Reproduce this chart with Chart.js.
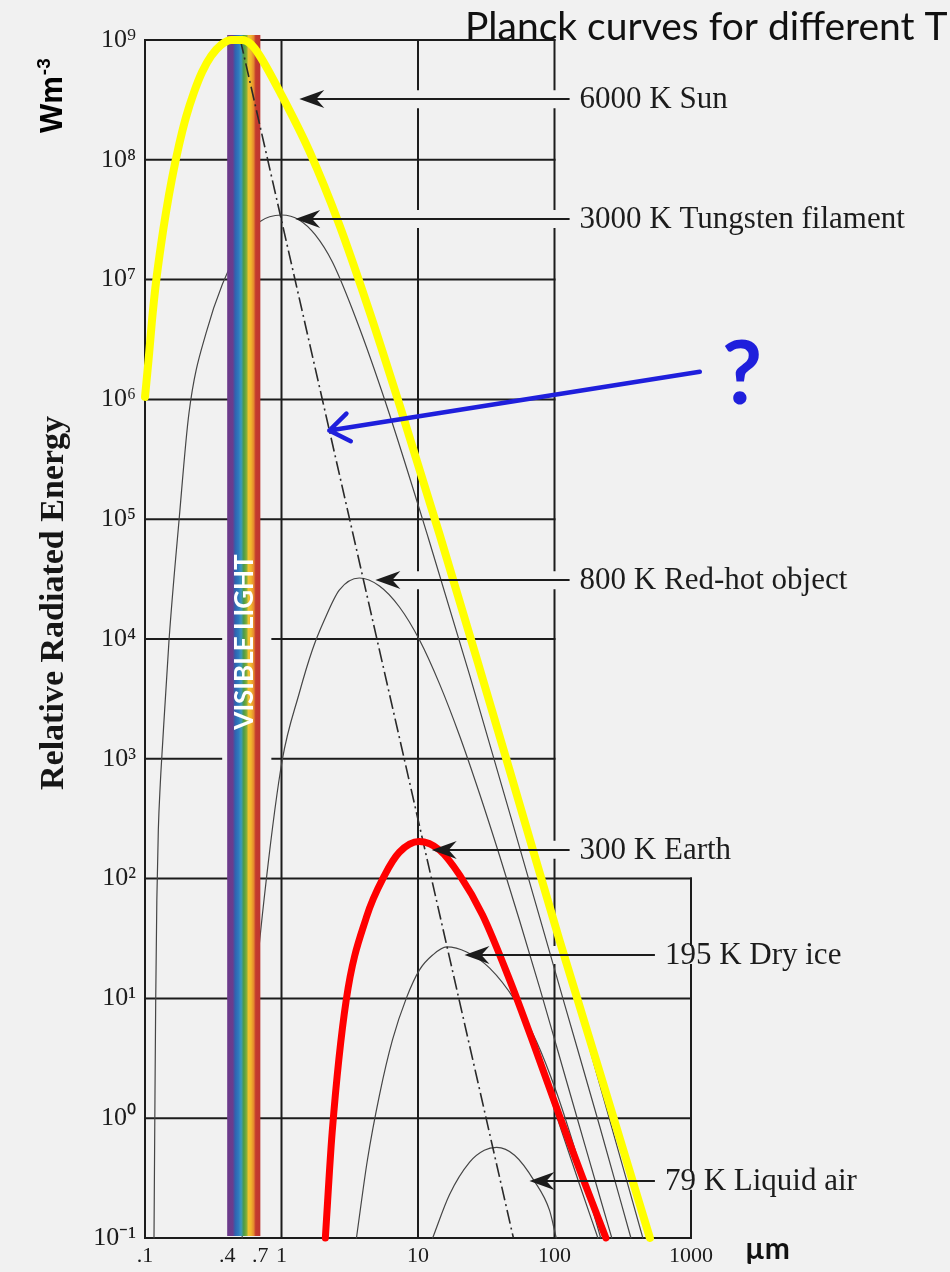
<!DOCTYPE html>
<html>
<head>
<meta charset="utf-8">
<title>Planck curves for different T</title>
<script src="https://cdn.jsdelivr.net/npm/chart.js@4.4.1/dist/chart.umd.min.js"></script>
<style>
  html, body { margin: 0; padding: 0; background: #f1f1f1; }
  canvas { display: block; }
</style>
</head>
<body>
<canvas id="planck" width="950" height="1272"></canvas>
<script>
const SERIF = "'Liberation Serif', 'Times New Roman', serif";
const SANS = "Lato, 'Open Sans', sans-serif";
const BOLD_SANS = "'Liberation Sans', Arial, sans-serif";
const INK = '#1c1c1c';
const BLUE = '#1f1fdc';

// axis ticks
const xTickValues = [0.1, 0.4, 0.7, 1, 10, 100, 1000];
const xTickLabels = ['.1', '.4', '.7', '1', '10', '100', '1000'];
const yTickValues = [0.1, 1, 10, 100, 1e3, 1e4, 1e5, 1e6, 1e7, 1e8, 1e9];
const yTickLabels = ['10⁻¹', '10⁰', '10¹', '10²', '10³', '10⁴', '10⁵', '10⁶', '10⁷', '10⁸', '10⁹'];

// visible light band, µm
const visibleBand = [0.4, 0.7];

// blackbody curves: wavelength (µm) and relative radiated energy
const t6000Wave   = [0.1, 0.107, 0.1126, 0.1204, 0.131, 0.1426, 0.1578, 0.1776, 0.2, 0.2289, 0.262, 0.305, 0.3613, 0.4278, 0.5151, 0.6, 0.687, 1.0, 1.6, 2.65, 4.41, 7.31, 14.4, 28.3, 55.6, 109, 215, 444];
const t6000Energy = [1.05e6, 2.35e6, 4.6e6, 9.5e6, 1.95e7, 3.66e7, 7.0e7, 1.33e8, 2.28e8, 3.68e8, 5.41e8, 7.35e8, 9.1e8, 1e9, 1e9, 9.17e8, 7.5e8, 3.47e8, 1.18e8, 2.88e7, 5.42e6, 9.06e5, 7.45e4, 5.67e3, 415, 29.6, 1.89, 0.1];

const t3000Wave   = [0.1164, 0.118, 0.1198, 0.1221, 0.1252, 0.1293, 0.1344, 0.15, 0.1776, 0.21, 0.28, 0.524, 0.687, 1.0, 1.349, 1.77, 2.36, 3.54, 5.87, 11.9, 23.9, 59.5, 119, 215, 363];
const t3000Energy = [0.1, 0.99, 9.8, 66, 255, 604, 1.3e3, 9.8e3, 9.8e4, 7.7e5, 3.58e6, 2.14e7, 3.03e7, 3.46e7, 3.15e7, 2.36e7, 1.40e7, 4.6e6, 8.98e5, 6.97e4, 5.0e3, 138, 8.8, 0.845, 0.1];

const t800Wave   = [0.515, 0.551, 0.631, 0.773, 1.013, 1.35, 1.682, 2.06, 2.65, 3.72, 5.22, 7.31, 10.26, 14.4, 20.2, 28.3, 39.6, 55.6, 78.0, 109, 153, 215, 263];
const t800Energy = [0.1, 0.966, 9.7, 97, 977, 3.54e3, 8.1e3, 1.44e4, 2.56e4, 3.23e4, 2.77e4, 1.85e4, 9.8e3, 4.2e3, 1.55e3, 508, 155, 44.3, 12.2, 3.24, 0.845, 0.22, 0.1];

const t300Wave   = [2.095, 2.35, 2.98, 4.2, 5.7, 7.3, 10.2, 14.4, 20.2, 29.7, 47.0, 71.6, 109, 153, 208];
const t300Energy = [0.1, 0.76, 9.7, 48, 107, 166, 204, 173, 107, 49.7, 14.2, 3.71, 0.877, 0.277, 0.1];

const t195Wave   = [3.54, 4.26, 5.22, 6.5, 8.23, 10.26, 12.8, 16.2, 22.7, 33.5, 51.1, 74.1, 102, 136, 181.5, 218];
const t195Energy = [0.1, 0.448, 1.56, 4.5, 10.1, 17.3, 23.0, 26.9, 24.4, 17.9, 9.7, 4.33, 1.72, 0.632, 0.207, 0.1];

const t79Wave   = [12.8, 17, 23.9, 30.6, 37.7, 51, 71, 92, 103];
const t79Energy = [0.1, 0.23, 0.43, 0.54, 0.57, 0.49, 0.3, 0.17, 0.1];

// highlighted curves
const sunWave   = [0.1, 0.107, 0.1126, 0.1204, 0.131, 0.1426, 0.1578, 0.1776, 0.2, 0.2289, 0.262, 0.305, 0.3613, 0.4278, 0.5151, 0.6, 0.687, 1.0, 1.6, 2.65, 4.41, 7.31, 14.4, 28.3, 55.6, 109, 215, 500];
const sunEnergy = [1.05e6, 2.35e6, 4.6e6, 9.5e6, 1.95e7, 3.66e7, 7.0e7, 1.33e8, 2.28e8, 3.68e8, 5.41e8, 7.35e8, 9.1e8, 1e9, 1e9, 9.17e8, 7.5e8, 3.47e8, 1.18e8, 2.88e7, 5.42e6, 9.06e5, 7.45e4, 5.67e3, 415, 30.4, 2.4, 0.1];

const earthWave   = [2.095, 2.35, 2.98, 4.2, 5.7, 7.3, 10.2, 14.4, 20.2, 29.7, 47.0, 71.6, 109, 161, 238];
const earthEnergy = [0.1, 0.76, 9.7, 48, 107, 166, 204, 173, 107, 49.7, 14.2, 3.93, 1.04, 0.317, 0.1];

// locus of the peaks (dash-dot)
const wienWave   = [0.5, 50];
const wienEnergy = [1e9, 0.1];

// labelled arrows
const arrowLabels   = ['6000 K Sun', '3000 K Tungsten filament', '800 K Red-hot object', '300 K Earth', '195 K Dry ice', '79 K Liquid air'];
const arrowTipWave  = [1.35, 1.26, 4.87, 12.6, 21.9, 65.5];
const arrowTailWave = [129, 129, 129, 129, 544, 544];
const arrowEnergy   = [3.2e8, 3.2e7, 3.1e4, 174, 23, 0.3];

// question arrow
const blueArrowWave   = [1160, 2.24];
const blueArrowEnergy = [1.7e6, 5.5e5];

// grid extents
const gridWaveLines = [0.1, 1, 10, 100, 1000];
const gridShortTop = 100;   // rows above this value stop at 100 µm; the 1000 µm line stops here

function pts(w, e) { return w.map((v, i) => ({ x: v, y: e[i] })); }

function curve(label, w, e, extra) {
  return Object.assign({
    label, data: pts(w, e), showLine: true, pointRadius: 0, pointHoverRadius: 0,
    borderColor: '#454545', borderWidth: 1.2, cubicInterpolationMode: 'monotone', fill: false,
    order: 10, clip: 8, borderCapStyle: 'round', borderJoinStyle: 'round'
  }, extra || {});
}

function strokeSegments(ctx, horizontal, fixed, a, b, gaps) {
  const g = gaps.filter(s => s[1] > a && s[0] < b).sort((p, q) => p[0] - q[0]);
  let cur = a;
  const seg = (s, e) => {
    if (horizontal) { ctx.moveTo(s, fixed); ctx.lineTo(e, fixed); }
    else { ctx.moveTo(fixed, s); ctx.lineTo(fixed, e); }
  };
  ctx.beginPath();
  for (const [g0, g1] of g) {
    if (g0 > cur) seg(cur, g0);
    cur = Math.max(cur, g1);
  }
  if (cur < b) seg(cur, b);
  ctx.stroke();
}

const paperGrid = {
  id: 'paperGrid',
  beforeDraw(chart) { chart.$bandDone = false; },
  beforeDatasetsDraw(chart) {
    const { ctx, scales: { x, y } } = chart;
    const bx0 = x.getPixelForValue(visibleBand[0]), bx1 = x.getPixelForValue(visibleBand[1]);
    ctx.save();
    ctx.strokeStyle = INK;
    ctx.lineWidth = 2;
    ctx.lineCap = 'square';
    // rows
    yTickValues.forEach(v => {
      const py = y.getPixelForValue(v);
      const xEnd = v > gridShortTop ? 100 : 1000;
      const gaps = (v === 1e4 || v === 1e3) ? [[bx0 - 6, bx1 + 12]] : [];
      strokeSegments(ctx, true, py, x.getPixelForValue(0.1), x.getPixelForValue(xEnd), gaps);
    });
    // columns, broken where a label arrow passes
    gridWaveLines.forEach(w => {
      const px = x.getPixelForValue(w);
      const top = y.getPixelForValue(w === 1000 ? gridShortTop : 1e9);
      const bottom = y.getPixelForValue(0.1);
      const gaps = [];
      arrowLabels.forEach((_, i) => {
        const tip = x.getPixelForValue(arrowTipWave[i]);
        const tail = x.getPixelForValue(arrowTailWave[i]);
        if (px > tip + 30 && px < tail + 240) {
          const ay = y.getPixelForValue(arrowEnergy[i]);
          gaps.push([ay - 10, ay + 10]);
        }
      });
      strokeSegments(ctx, false, px, top, bottom, gaps);
    });
    ctx.restore();
  },
  beforeDatasetDraw(chart, args) {
    const ds = chart.data.datasets[args.index];
    if (ds.aboveBand && !chart.$bandDone) {
      chart.$bandDone = true;
      drawBand(chart);
    }
  },
  afterDatasetsDraw(chart) {
    const { ctx, scales: { x, y } } = chart;
    ctx.save();
    ctx.fillStyle = INK;
    ctx.strokeStyle = INK;
    ctx.lineWidth = 2;
    arrowLabels.forEach((label, i) => {
      const tip = x.getPixelForValue(arrowTipWave[i]);
      const tail = x.getPixelForValue(arrowTailWave[i]);
      const ay = Math.round(y.getPixelForValue(arrowEnergy[i]));
      ctx.beginPath();
      ctx.moveTo(tip + 12, ay);
      ctx.lineTo(tail, ay);
      ctx.stroke();
      ctx.beginPath();
      ctx.moveTo(tip, ay);
      ctx.lineTo(tip + 25, ay - 9);
      ctx.lineTo(tip + 17, ay);
      ctx.lineTo(tip + 25, ay + 9);
      ctx.closePath();
      ctx.fill();
      ctx.font = `31px ${SERIF}`;
      ctx.textBaseline = 'middle';
      ctx.textAlign = 'left';
      ctx.fillText(label, tail + 10, ay + 1);
    });
    ctx.restore();
  },
  afterDraw(chart) {
    const { ctx, scales: { x, y } } = chart;
    ctx.save();
    // title
    ctx.fillStyle = '#111';
    ctx.font = `39px ${SANS}`;
    ctx.textAlign = 'left';
    ctx.textBaseline = 'alphabetic';
    ctx.fillText('Planck curves for different T', 465, 40);

    // unit on the wavelength axis
    ctx.font = `bold 30px ${SANS}`;
    ctx.fillText('µm', 745, 1259);

    // y axis title
    ctx.save();
    ctx.translate(63, 603);
    ctx.rotate(-Math.PI / 2);
    ctx.font = `bold 34px ${SERIF}`;
    ctx.textAlign = 'center';
    ctx.fillStyle = '#161616';
    ctx.fillText('Relative Radiated Energy', 0, 0);
    ctx.restore();

    // unit on the energy axis
    ctx.save();
    ctx.translate(62, 133);
    ctx.rotate(-Math.PI / 2);
    ctx.font = `bold 31px ${BOLD_SANS}`;
    ctx.textAlign = 'left';
    ctx.fillStyle = '#000';
    ctx.fillText('Wm', 0, 0);
    const wmW = ctx.measureText('Wm').width;
    ctx.font = `bold 19px ${BOLD_SANS}`;
    ctx.fillText('-3', wmW + 1, -12);
    ctx.restore();

    // question arrow
    const fx = x.getPixelForValue(blueArrowWave[0]), fy = y.getPixelForValue(blueArrowEnergy[0]);
    const tx = x.getPixelForValue(blueArrowWave[1]), ty = y.getPixelForValue(blueArrowEnergy[1]);
    ctx.strokeStyle = BLUE;
    ctx.lineWidth = 4.5;
    ctx.lineCap = 'round';
    ctx.lineJoin = 'round';
    ctx.beginPath();
    ctx.moveTo(fx, fy);
    ctx.lineTo(tx, ty);
    const back = Math.atan2(fy - ty, fx - tx);
    ctx.moveTo(tx + 24 * Math.cos(back + 0.62), ty + 24 * Math.sin(back + 0.62));
    ctx.lineTo(tx, ty);
    ctx.lineTo(tx + 24 * Math.cos(back - 0.62), ty + 24 * Math.sin(back - 0.62));
    ctx.stroke();
    ctx.fillStyle = BLUE;
    ctx.font = `bold 88px ${SANS}`;
    ctx.textAlign = 'left';
    ctx.textBaseline = 'alphabetic';
    ctx.fillText('?', fx + 22, fy + 32);
    ctx.restore();
  }
};

function drawBand(chart) {
  const { ctx, scales: { x, y } } = chart;
  const x0 = x.getPixelForValue(visibleBand[0]);
  const x1 = x.getPixelForValue(visibleBand[1]);
  const top = y.getPixelForValue(1e9) - 5;
  const bottom = y.getPixelForValue(0.1) - 2;
  ctx.save();
  const g = ctx.createLinearGradient(x0, 0, x1, 0);
  g.addColorStop(0.00, '#6c3a8a');
  g.addColorStop(0.17, '#6a3c8e');
  g.addColorStop(0.24, '#2e63b0');
  g.addColorStop(0.34, '#2f78bd');
  g.addColorStop(0.42, '#3b98bf');
  g.addColorStop(0.50, '#4c9a45');
  g.addColorStop(0.58, '#7fae3a');
  g.addColorStop(0.64, '#f1c330');
  g.addColorStop(0.72, '#f0b52c');
  g.addColorStop(0.80, '#e5892e');
  g.addColorStop(0.86, '#c33b2e');
  g.addColorStop(1.00, '#bf3630');
  ctx.fillStyle = g;
  ctx.fillRect(x0, top, x1 - x0, bottom - top);
  ctx.translate((x0 + x1) / 2 + 1, 642);
  ctx.rotate(-Math.PI / 2);
  ctx.font = `bold 26px ${SANS}`;
  ctx.fillStyle = '#ffffff';
  ctx.textAlign = 'center';
  ctx.textBaseline = 'middle';
  ctx.fillText('VISIBLE LIGHT', 0, 0);
  ctx.restore();
}

const datasets = [
  curve('300 K Earth (highlight)', earthWave, earthEnergy, { borderColor: '#ff0000', borderWidth: 7, order: 1, aboveBand: true }),
  curve('6000 K Sun (highlight)', sunWave, sunEnergy, { borderColor: '#ffff00', borderWidth: 8, order: 2, aboveBand: true }),
  curve('Peak wavelength', wienWave, wienEnergy, { borderDash: [14, 4, 2, 4], cubicInterpolationMode: 'default', tension: 0, borderWidth: 1.6, borderColor: '#2a2a2a', order: 3, aboveBand: true, borderCapStyle: 'butt' }),
  curve('6000 K', t6000Wave, t6000Energy),
  curve('3000 K', t3000Wave, t3000Energy),
  curve('800 K', t800Wave, t800Energy),
  curve('300 K', t300Wave, t300Energy),
  curve('195 K', t195Wave, t195Energy),
  curve('79 K', t79Wave, t79Energy)
];

new Chart(document.getElementById('planck'), {
  type: 'scatter',
  data: { datasets },
  options: {
    responsive: false,
    animation: false,
    events: [],
    layout: { padding: { top: 40, right: 259, bottom: 0, left: 0 } },
    plugins: { legend: { display: false }, tooltip: { enabled: false } },
    scales: {
      x: {
        type: 'logarithmic', min: 0.1, max: 1000,
        grid: { display: false, drawTicks: false }, border: { display: false },
        afterBuildTicks: s => { s.ticks = xTickValues.map(v => ({ value: v })); },
        afterFit: s => { s.height = 34; },
        ticks: {
          autoSkip: false, maxRotation: 0, padding: 5, color: INK,
          font: { family: SERIF, size: 22 },
          callback: (v, i) => xTickLabels[i]
        }
      },
      y: {
        type: 'logarithmic', min: 0.1, max: 1e9,
        grid: { display: false, drawTicks: false }, border: { display: false },
        afterBuildTicks: s => { s.ticks = yTickValues.map(v => ({ value: v })); },
        afterFit: s => { s.width = 145; },
        ticks: {
          autoSkip: false, padding: 9, color: INK,
          font: { family: SERIF, size: 26 },
          callback: (v, i) => yTickLabels[i]
        }
      }
    }
  },
  plugins: [paperGrid]
});
</script>
</body>
</html>
